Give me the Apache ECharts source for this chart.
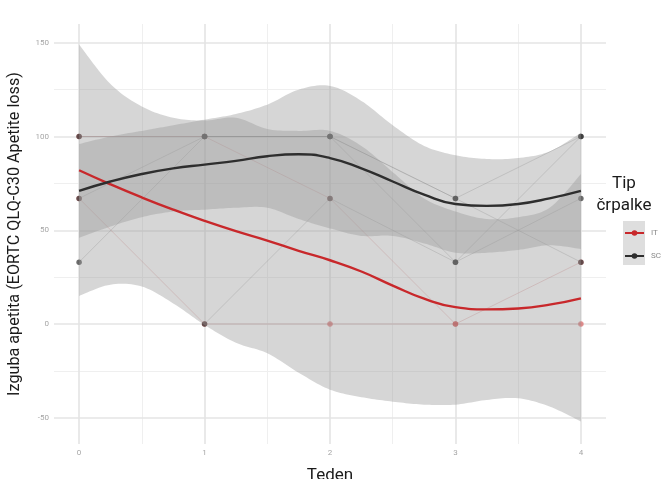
<!DOCTYPE html>
<html>
<head>
<meta charset="utf-8">
<script src="https://cdn.jsdelivr.net/npm/echarts@6/dist/echarts.min.js"></script>
<style>
  html, body { margin: 0; padding: 0; background: #ffffff; }
  #chart { width: 667px; height: 479px; }
</style>
</head>
<body>
<div id="chart"></div>
<script>
// Weeks on the x axis and tick values
const weeks = [0, 1, 2, 3, 4];
const weekMinor = [0.5, 1.5, 2.5, 3.5];
const scoreTicks = [-50, 0, 50, 100, 150];
const scoreMinor = [-25, 25, 75, 125];

// Individual patients: appetite-loss score per week (null = no visit)
const itPatients = [
  [100, 100, 67, 0, 33],
  [67, 0, 0, 0, 0]
];
const scPatients = [
  [100, 100, 100, 67, 100],
  [33, 100, 100, 33, 67],
  [67, 100, 100, 67, 33],
  [null, 0, 67, 33, 100]
];

// Smoothed trend with its confidence band, sampled every quarter week
const fitWeeks = [0, 0.25, 0.5, 0.75, 1, 1.25, 1.5, 1.75, 2, 2.25, 2.5, 2.75, 3, 3.25, 3.5, 3.75, 4];
const itFit  = [82, 74.5, 67.5, 61, 55, 49.5, 44.5, 39, 34, 28, 20.5, 13.5, 9, 7.8, 8.3, 10.3, 13.7];
const itLow  = [15, 21, 20, 11, -0.5, -10, -15.6, -26, -35, -39, -41.4, -43, -43, -40.5, -39.6, -44, -52];
const itHigh = [149, 128, 116, 110, 108.5, 110, 104, 103, 103, 95, 81, 67, 60, 56, 57, 62, 80];
const scFit  = [71, 76, 80, 83, 85, 87, 89.5, 90.5, 88.5, 83, 76, 69, 64, 63, 64, 67, 71];
const scLow  = [46, 52, 57, 60, 61, 62, 62, 56, 51, 47, 47, 43, 38, 38, 39.5, 42, 40];
const scHigh = [96, 100, 103, 106, 109, 112, 117, 125, 127, 119, 106, 95, 90, 88, 88.5, 92, 102];

const FONT = 'Roboto';
const IT_RED = '#c8282b';
const SC_DARK = '#2e2e2e';

// Catmull-Rom curve through pixel points, for smooth band edges
function curveThrough(p) {
  const out = [];
  for (let i = 0; i < p.length - 1; i++) {
    const p0 = p[Math.max(i - 1, 0)], p1 = p[i], p2 = p[i + 1], p3 = p[Math.min(i + 2, p.length - 1)];
    for (let k = 0; k < 12; k++) {
      const t = k / 12, t2 = t * t, t3 = t2 * t;
      out.push([0, 1].map(d => 0.5 * (2 * p1[d] + (-p0[d] + p2[d]) * t +
        (2 * p0[d] - 5 * p1[d] + 4 * p2[d] - p3[d]) * t2 +
        (-p0[d] + 3 * p1[d] - 3 * p2[d] + p3[d]) * t3)));
    }
  }
  out.push(p[p.length - 1]);
  return out;
}

function bandSeries(id, low, high) {
  return {
    id: id,
    type: 'custom',
    silent: true,
    z: 3,
    data: fitWeeks.map((w, i) => [w, low[i], high[i]]),
    encode: { x: 0, y: [1, 2] },
    renderItem: function (params, api) {
      if (params.dataIndex !== 0) return null;
      const top = fitWeeks.map((w, i) => api.coord([w, high[i]]));
      const bottom = fitWeeks.map((w, i) => api.coord([w, low[i]]));
      const pts = curveThrough(top).concat(curveThrough(bottom).reverse());
      return { type: 'polygon', shape: { points: pts }, style: { fill: 'rgba(153,153,153,0.4)' } };
    }
  };
}

function patientSeries(rows, lineColor, dotColor, prefix) {
  return rows.map((row, k) => ({
    id: prefix + k,
    type: 'line',
    silent: true,
    z: 2,
    data: weeks.map((w, i) => [w, row[i]]).filter(d => d[1] !== null),
    symbol: 'circle',
    symbolSize: 5.5,
    showSymbol: true,
    lineStyle: { width: 0.8, color: lineColor },
    itemStyle: { color: dotColor }
  }));
}

function fitSeries(name, values, color) {
  return {
    name: name,
    type: 'line',
    silent: true,
    z: 4,
    smooth: 0.5,
    data: fitWeeks.map((w, i) => [w, values[i]]),
    showSymbol: false,
    symbol: 'circle',
    lineStyle: { width: 2.4, color: color },
    itemStyle: { color: color }
  };
}

const major = { color: '#e4e4e4', width: 1.6, type: 'solid' };
const minor = { color: '#efefef', width: 1.1, type: 'solid' };
const gridLines = [].concat(
  scoreMinor.map(v => ({ yAxis: v, lineStyle: minor })),
  weekMinor.map(v => ({ xAxis: v, lineStyle: minor })),
  scoreTicks.map(v => ({ yAxis: v, lineStyle: major })),
  weeks.map(v => ({ xAxis: v, lineStyle: major }))
);

const chart = echarts.init(document.getElementById('chart'), null, { renderer: 'canvas' });

chart.setOption({
  animation: false,
  backgroundColor: '#ffffff',
  textStyle: { fontFamily: FONT },
  grid: { left: 54, right: 61, top: 24, bottom: 35, containLabel: false, outerBoundsMode: 'none' },
  xAxis: {
    type: 'value', min: -0.2, max: 4.2,
    name: 'Teden', nameLocation: 'middle', nameGap: 23,
    nameTextStyle: { fontSize: 17, color: '#1a1a1a', fontFamily: FONT },
    axisLine: { show: false }, axisTick: { show: false }, splitLine: { show: false },
    axisLabel: { customValues: weeks, fontSize: 8, color: '#a6a6a6', margin: 5, fontFamily: FONT }
  },
  yAxis: {
    type: 'value', min: -64, max: 160,
    name: 'Izguba apetita (EORTC QLQ-C30 Apetite loss)', nameLocation: 'middle', nameGap: 31, nameRotate: 90,
    nameTextStyle: { fontSize: 16.2, color: '#1a1a1a', fontFamily: FONT },
    axisLine: { show: false }, axisTick: { show: false }, splitLine: { show: false },
    axisLabel: { customValues: scoreTicks, fontSize: 8, color: '#a6a6a6', margin: 5, fontFamily: FONT }
  },
  legend: {
    data: ['IT', 'SC'],
    orient: 'vertical',
    left: 624, top: 229,
    padding: 0,
    itemWidth: 19, itemHeight: 7, itemGap: 15,
    textStyle: { fontSize: 8, color: '#8a8a8a', fontFamily: FONT, padding: [0, 0, 0, 2] },
    selectedMode: false
  },
  graphic: [
    {
      type: 'rect', z: -1, silent: true,
      shape: { x: 623, y: 221, width: 22, height: 44 },
      style: { fill: 'rgba(153,153,153,0.32)' }
    },
    {
      type: 'text', silent: true,
      style: {
        x: 624, y: 173, text: 'Tip\nčrpalke', textAlign: 'center',
        font: '17px ' + FONT, fill: '#1a1a1a', lineHeight: 22
      }
    }
  ],
  series: [].concat(
    [{
      id: 'grid-lines', type: 'line', data: [], silent: true,
      markLine: { silent: true, z: 0, animation: false, symbol: ['none', 'none'], label: { show: false }, data: gridLines }
    }],
    patientSeries(itPatients, 'rgba(205,95,95,0.35)', 'rgba(205,60,60,0.55)', 'it-'),
    patientSeries(scPatients, 'rgba(70,70,70,0.25)', 'rgba(45,45,45,0.7)', 'sc-'),
    [bandSeries('it-band', itLow, itHigh), bandSeries('sc-band', scLow, scHigh)],
    [fitSeries('IT', itFit, IT_RED), fitSeries('SC', scFit, SC_DARK)]
  )
});
</script>
</body>
</html>
